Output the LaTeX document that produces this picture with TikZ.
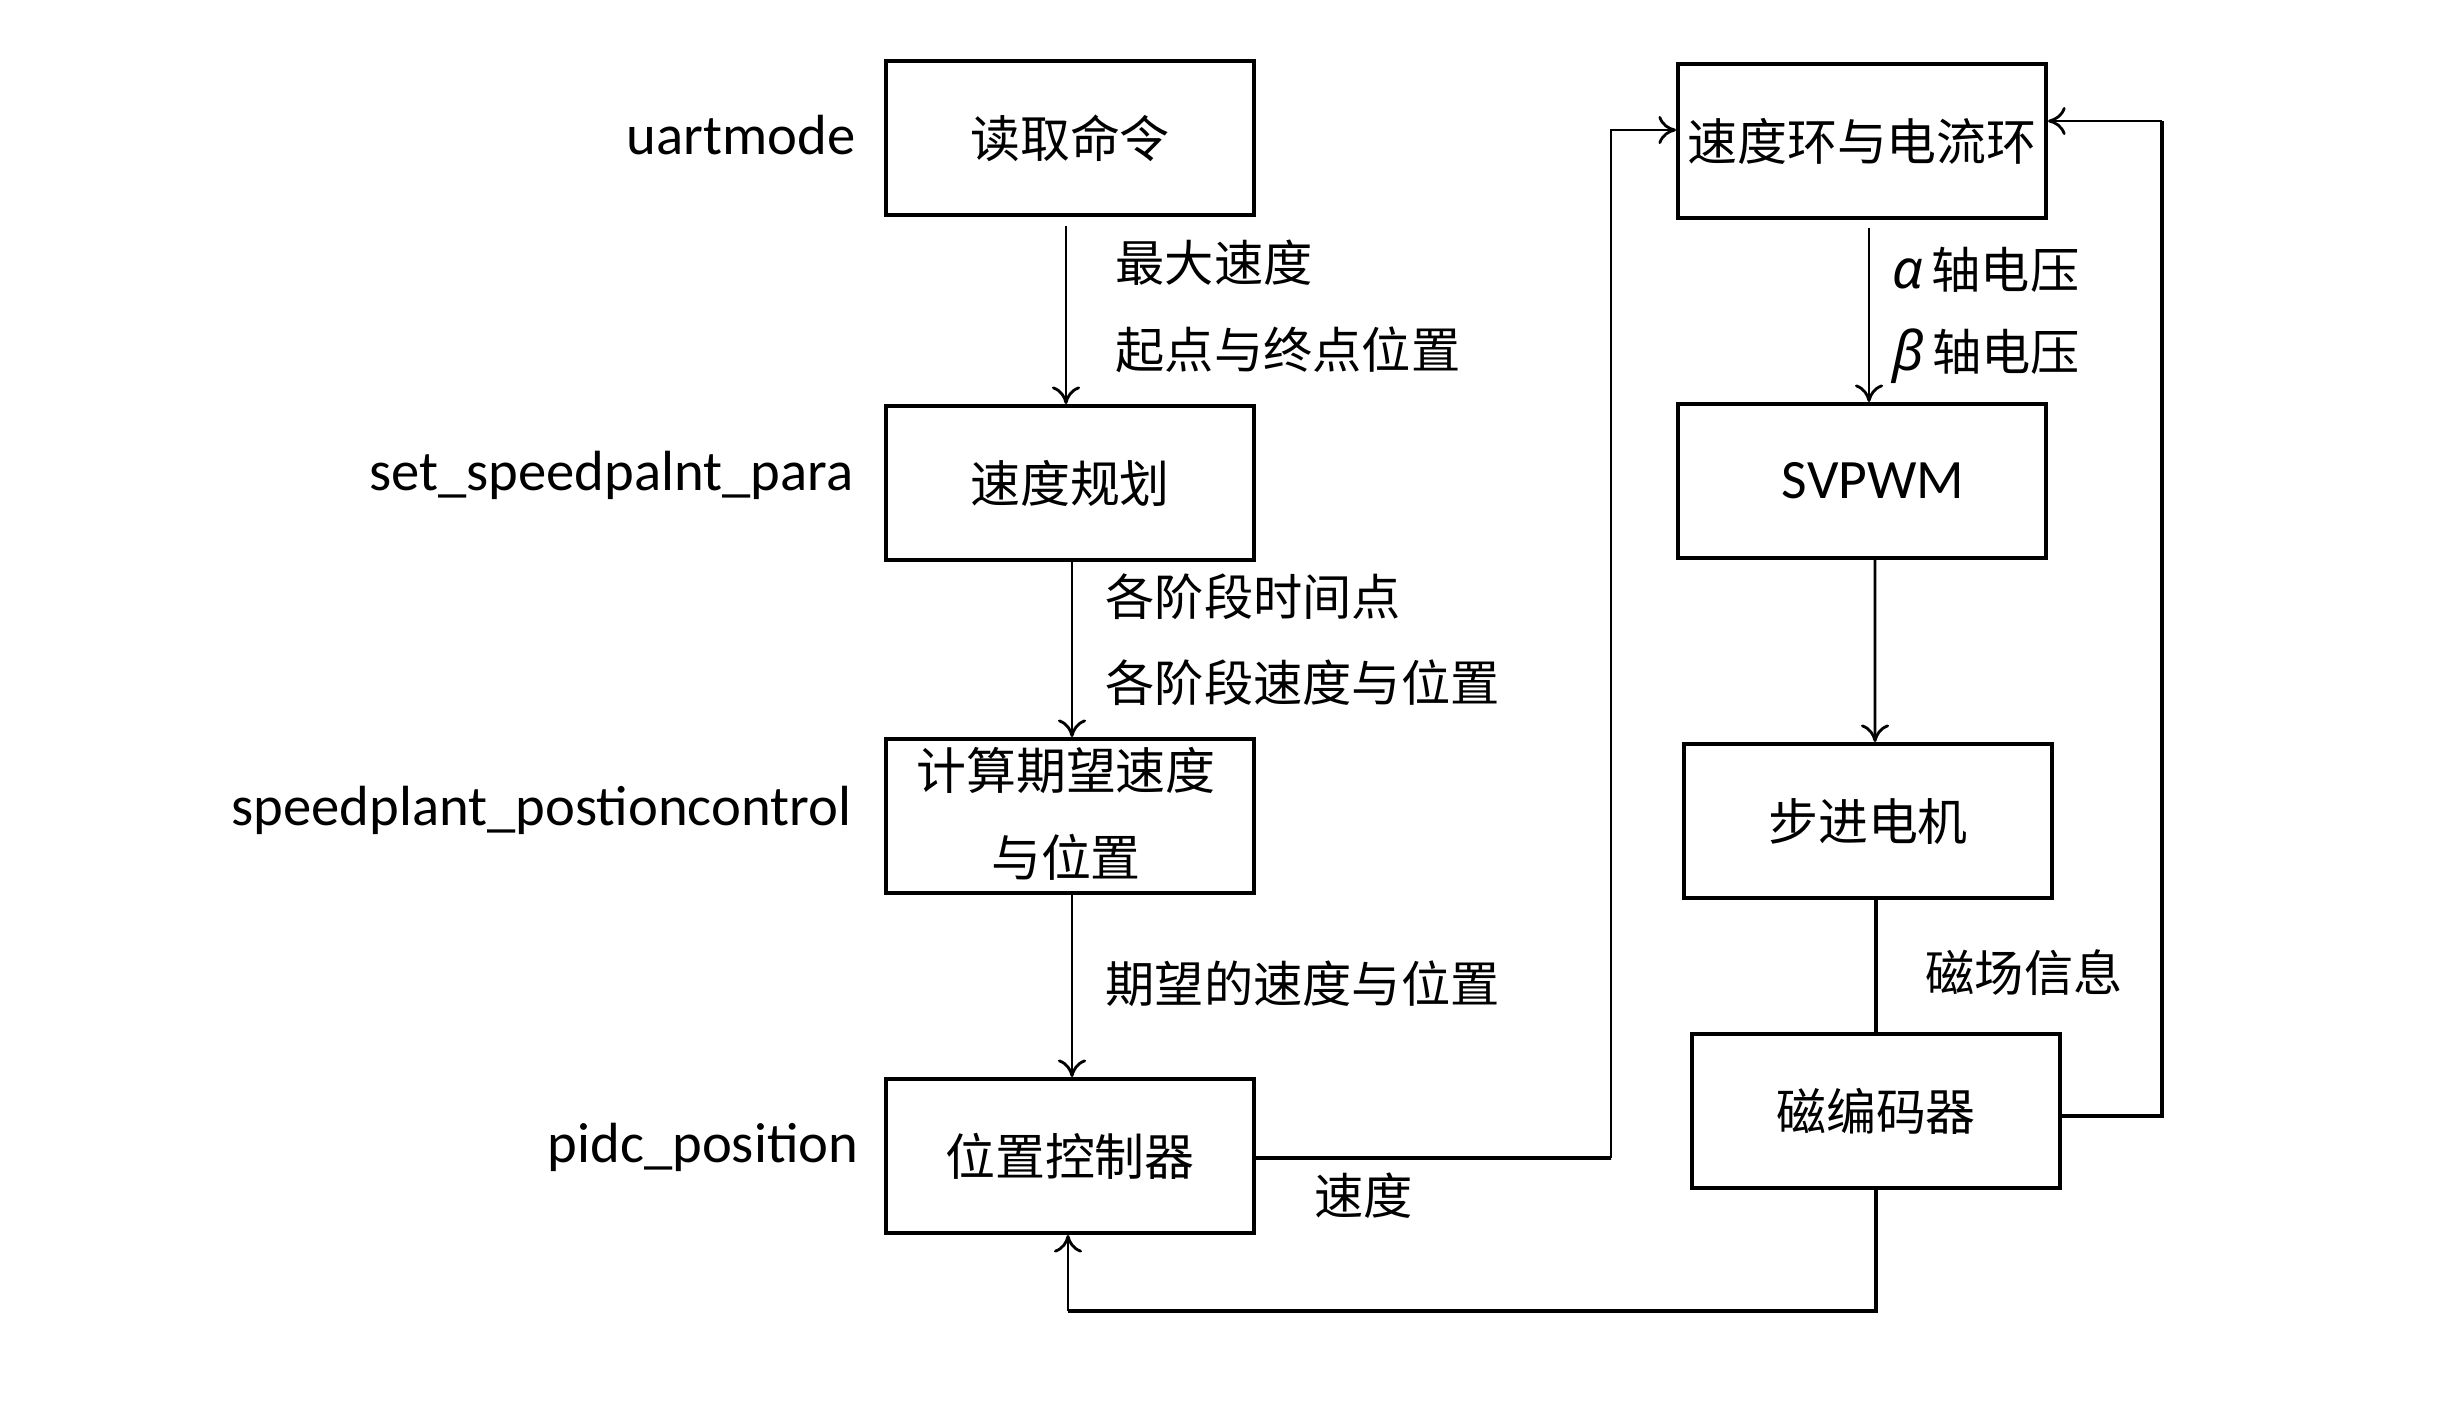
\documentclass[tikz,border=0pt]{standalone}
\usepackage{fontspec}
\setmainfont{Carlito}
\newfontfamily\cjk{Noto Sans CJK SC}
\newfontfamily\grk{Noto Sans}
\usetikzlibrary{arrows.meta,calc}
\begin{document}
\begin{tikzpicture}[x=0.01cm,y=-0.01cm,
  box/.style={draw,line width=1.1pt,minimum width=3.68cm,minimum height=1.54cm,inner sep=0pt,font=\cjk\fontsize{14.2}{17}\selectfont,align=center},
  lbl/.style={font=\fontsize{16.1}{19}\selectfont,anchor=east,inner sep=0pt},
  elbl/.style={font=\cjk\fontsize{14}{17}\selectfont,anchor=west,inner sep=0pt},
  arr/.style={line width=0.8pt,-{To[length=5pt,width=8pt]}},
  ln/.style={line width=1.1pt}]
\useasboundingbox (0,0) rectangle (2458,1417);
\fill[white] (0,0) rectangle (2458,1417);
% boxes
\node[box] (A) at (1070,138) {读取命令};
\node[box] (B) at (1070,483) {速度规划};
\node[box] (C) at (1070,816) {};
\node[font=\cjk\fontsize{14.2}{17}\selectfont,inner sep=0pt] (C1) at (1066,770) {计算期望速度};
\node[font=\cjk\fontsize{14.2}{17}\selectfont,inner sep=0pt] (C2) at (1066,857) {与位置};
\node[box] (D) at (1070,1156) {位置控制器};
\node[box] (E) at (1862,141) {速度环与电流环};
\node[box,font=\fontsize{15.8}{18}\selectfont] (F) at (1862,481) {\hspace*{0.22cm}SVPWM};
\node[box] (G) at (1868,821) {步进电机};
\node[box] (H) at (1876,1111) {磁编码器};
% left labels
\node[lbl] (L1) at (856,135) {uartmode};
\node[lbl] (L2) at (854,475) {set\_speedpalnt\_para};
\node[lbl] (L3) at (852,810) {speedplant\_postioncontrol};
\node[lbl] (L4) at (859,1147) {pidc\_position};
% edge labels
\node[elbl] (e1) at (1115,263) {最大速度};
\node[elbl] (e2) at (1115,350) {起点与终点位置};
\node[elbl] (e3) at (1105,597) {各阶段时间点};
\node[elbl] (e4) at (1105,683) {各阶段速度与位置};
\node[elbl] (e5) at (1105,984) {期望的速度与位置};
\node[elbl] (e6) at (1892,270) {{\grk\itshape\fontsize{15.5}{18}\selectfont α}\,轴电压};
\node[elbl] (e7) at (1892,356) {{\grk\itshape\fontsize{15.5}{18}\selectfont β}\,轴电压};
\node[elbl] (e8) at (1925,973) {磁场信息};
\node[elbl] (e9) at (1314,1196) {速度};
% connectors
\draw[arr] ([xshift=-0.04cm,yshift=-0.09cm]A.south) -- ([xshift=-0.04cm]B.north);
\draw[arr] ([xshift=0.02cm]B.south) -- ([xshift=0.02cm]C.north);
\draw[arr] ([xshift=0.02cm]C.south) -- ([xshift=0.02cm]D.north);
\draw[arr] ([xshift=0.07cm,yshift=-0.08cm]E.south) -- ([xshift=0.07cm]F.north);
\draw[arr] ([xshift=0.13cm]F.south) -- ([xshift=0.07cm]G.north);
\draw[ln] ([xshift=0.08cm]G.south) -- (H.north);
\coordinate (b1) at (1876,1311);
\coordinate (b2) at (1068,1311);
\draw[ln] (H.south) -- (b1) -- (b2);
\draw[arr] (b2) -- (D.south -| b2);
\coordinate (d1) at (1611,1158);
\coordinate (d2) at (1611,130);
\draw[ln] ([yshift=-0.02cm]D.east) -- (d1);
\draw[arr] (d1) -- (d2) -- (E.west |- d2);
\coordinate (h1) at (2162,1116);
\coordinate (h2) at (2162,121);
\draw[ln] ([yshift=-0.05cm]H.east) -- (h1) -- (h2);
\draw[arr] (h2) -- (E.east |- h2);
\end{tikzpicture}
\end{document}
